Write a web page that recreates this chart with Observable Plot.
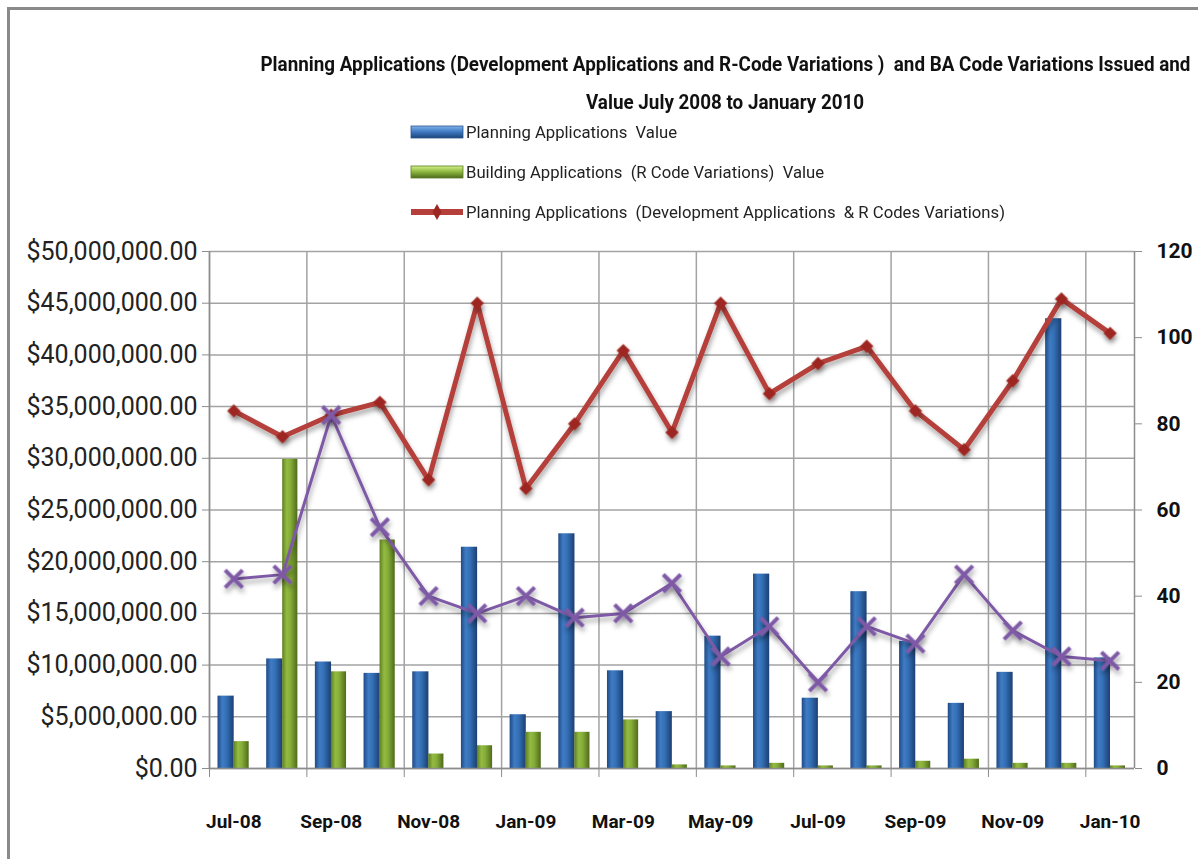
<!DOCTYPE html>
<html>
<head>
<meta charset="utf-8">
<script src="https://cdn.jsdelivr.net/npm/d3@7"></script>
<script src="https://cdn.jsdelivr.net/npm/@observablehq/plot@0.6"></script>
<style>
  html, body { margin: 0; padding: 0; background: #fff; }
  #wrap { position: relative; width: 1198px; height: 859px; overflow: hidden; background: #fff; }
  #frame { position: absolute; left: 7px; top: 7px; width: 1200px; height: 900px; border-left: 3px solid #8a8a8a; border-top: 3px solid #8a8a8a; }
  #header { position: absolute; left: 0; top: 0; width: 1198px; height: 231px; font-family: Roboto, "Noto Sans", sans-serif; }
  .title { position: absolute; left: 0; width: 1450px; text-align: center; font-weight: bold; font-size: 21px; color: #111; white-space: pre; }
  .title span { display: inline-block; transform-origin: 50% 50%; }
  .leg { position: absolute; left: 410px; height: 24px; display: flex; align-items: center; font-size: 17px; color: #222; white-space: pre; }
  .leg svg { margin-right: 2px; flex: none; }
  .leg span { display: inline-block; transform-origin: 0 50%; }
  #chart { position: absolute; left: 0; top: 231px; }
  #chart svg { font-family: Roboto, "Noto Sans", sans-serif; overflow: visible; }
</style>
</head>
<body>
<div id="wrap">
  <div id="frame"></div>
  <div id="header"></div>
  <div id="chart"></div>
</div>
<script>
// ---- data ----
const months = ["Jul-08","Aug-08","Sep-08","Oct-08","Nov-08","Dec-08","Jan-09","Feb-09","Mar-09","Apr-09",
                "May-09","Jun-09","Jul-09","Aug-09","Sep-09","Oct-09","Nov-09","Dec-09","Jan-10"];
const planningValue = [7000000,10600000,10300000,9200000,9350000,21400000,5200000,22700000,9450000,5500000,
                       12800000,18800000,6800000,17100000,12300000,6300000,9300000,43500000,10700000];
const buildingValue = [2600000,29900000,9350000,22100000,1400000,2200000,3500000,3500000,4700000,350000,
                       250000,500000,250000,250000,700000,900000,500000,500000,250000];
const planningCount = [83,77,82,85,67,108,65,80,97,78,108,87,94,98,83,74,90,109,101];
const baCount = [44,45,82,56,40,36,40,35,36,43,26,33,20,33,29,45,32,26,25];
const leftTicks = [0,5000000,10000000,15000000,20000000,25000000,30000000,35000000,40000000,45000000,50000000];
const rightTicks = [0,20,40,60,80,100,120];
const titleLines = ["Planning Applications (Development Applications and R-Code Variations )  and BA Code Variations Issued and",
                    "Value July 2008 to January 2010"];
const legendItems = ["Planning Applications  Value",
                     "Building Applications  (R Code Variations)  Value",
                     "Planning Applications  (Development Applications  & R Codes Variations)"];

// ---- header ----
const header = document.getElementById("header");
const titleSpans = titleLines.map((t, i) => {
  const d = document.createElement("div");
  d.className = "title";
  d.style.top = (52 + i * 38) + "px";
  const s = document.createElement("span");
  s.textContent = t;
  d.appendChild(s);
  header.appendChild(d);
  return s;
});
const swatches = [
  `<svg width="54" height="14"><defs><linearGradient id="lb" x1="0" y1="0" x2="0" y2="1"><stop offset="0" stop-color="#7fb2ea"/><stop offset="0.5" stop-color="#3d78c0"/><stop offset="1" stop-color="#1d4478"/></linearGradient></defs><rect x="1" y="1" width="52" height="12" fill="url(#lb)" stroke="#2a5590" stroke-width="0.8"/></svg>`,
  `<svg width="54" height="14"><defs><linearGradient id="lg" x1="0" y1="0" x2="0" y2="1"><stop offset="0" stop-color="#d5f08a"/><stop offset="0.5" stop-color="#8ab43c"/><stop offset="1" stop-color="#4e6a1c"/></linearGradient></defs><rect x="1" y="1" width="52" height="12" fill="url(#lg)" stroke="#5d7d24" stroke-width="0.8"/></svg>`,
  `<svg width="54" height="20"><line x1="1" y1="10" x2="53" y2="10" stroke="#b5403b" stroke-width="6"/><path d="M27,2 L31.5,10 L27,18 L22.5,10 Z" fill="#9e2620"/></svg>`
];
const legSpans = legendItems.map((t, i) => {
  const d = document.createElement("div");
  d.className = "leg";
  d.style.top = (120 + i * 40) + "px";
  d.innerHTML = swatches[i];
  const s = document.createElement("span");
  s.textContent = t;
  d.appendChild(s);
  header.appendChild(d);
  return s;
});
// condense text to mimic the narrow original font
const tScale = 930 / titleSpans[0].getBoundingClientRect().width;
titleSpans.forEach(s => s.style.transform = `scaleX(${tScale})`);
const lScale = 539 / legSpans[2].getBoundingClientRect().width;
legSpans.forEach(s => s.style.transform = `scaleX(${lScale})`);

// ---- chart ----
const k = 50000000 / 120; // right axis (count) -> left axis units
const data = months.map((m, i) => ({
  i, m,
  pv: planningValue[i],
  bv: buildingValue[i],
  pc: planningCount[i] * k,
  bc: baCount[i] * k
}));
const gridX = d3.range(0, months.length, 2);

const grey = "#a3a3a3";
const chart = Plot.plot({
  width: 1198,
  height: 628,
  marginTop: 20,
  marginBottom: 91,
  marginLeft: 209,
  marginRight: 64,
  x: { domain: [0, months.length], axis: null },
  y: { domain: [0, 50000000], axis: null },
  marks: [
    Plot.ruleY(leftTicks, { stroke: grey, strokeWidth: 1.5 }),
    Plot.ruleX(gridX, { stroke: grey, strokeWidth: 1.5 }),
    Plot.ruleX([months.length], { stroke: "#8c8c8c", strokeWidth: 1.5 }),
    Plot.rectY(data, { x1: d => d.i, x2: d => d.i + 1, y: "pv", insetLeft: 8.5, insetRight: 24, fill: "url(#gBlue)" }),
    Plot.rectY(data, { x1: d => d.i, x2: d => d.i + 1, y: "bv", insetLeft: 24.5, insetRight: 9, fill: "url(#gGreen)" }),
    Plot.line(data, { x: d => d.i + 0.5, y: "pc", stroke: "#b5403b", strokeWidth: 5, strokeLinejoin: "miter" }),
    Plot.dot(data, { x: d => d.i + 0.5, y: "pc", symbol: "diamond2", r: 6, fill: "#9e2620", stroke: "none" }),
    Plot.line(data, { x: d => d.i + 0.5, y: "bc", stroke: "#7e5aa6", strokeWidth: 3 }),
    Plot.dot(data, { x: d => d.i + 0.5, y: "bc", symbol: "times", r: 8, stroke: "#7e5aa6", strokeWidth: 4 }),
    Plot.ruleY([0], { stroke: "#8c8c8c", strokeWidth: 1.5 }),
    Plot.ruleX([0], { stroke: "#8c8c8c", strokeWidth: 1.5 }),
    Plot.axisY(leftTicks, {
      anchor: "left", tickSize: 7, tickPadding: 5, stroke: "#8c8c8c",
      tickFormat: d3.format("$,.2f"), fontSize: 25, fill: "#222"
    }),
    Plot.axisY(rightTicks.map(v => v * k), {
      anchor: "right", tickSize: 7, tickPadding: 15, stroke: "#8c8c8c",
      tickFormat: d => String(Math.round(d / k)), fontSize: 21, fontWeight: "bold", fill: "#111"
    }),
    Plot.axisX(gridX, { tickSize: 9, tickFormat: () => "", stroke: "#8c8c8c" }),
    Plot.axisX(gridX.map(i => i + 0.5), {
      tickSize: 0, tickPadding: 46, tickFormat: d => months[Math.round(d - 0.5)],
      fontSize: 19, fontWeight: "bold", fill: "#111"
    })
  ]
});

// gradients + shadows
const svg = d3.select(chart);
const defs = svg.insert("defs", ":first-child");
const gb = defs.append("linearGradient").attr("id", "gBlue").attr("x1", 0).attr("x2", 1).attr("y1", 0).attr("y2", 0);
[["0", "#1f4a86"], ["0.3", "#3f7cc4"], ["0.55", "#3470b6"], ["1", "#1c3f72"]].forEach(([o, c]) => gb.append("stop").attr("offset", o).attr("stop-color", c));
const gg = defs.append("linearGradient").attr("id", "gGreen").attr("x1", 0).attr("x2", 1).attr("y1", 0).attr("y2", 0);
[["0", "#5f7f22"], ["0.3", "#93bb42"], ["0.55", "#86ad38"], ["1", "#4f6b1b"]].forEach(([o, c]) => gg.append("stop").attr("offset", o).attr("stop-color", c));
const sh = defs.append("filter").attr("id", "shadow").attr("x", "-10%").attr("y", "-10%").attr("width", "130%").attr("height", "140%");
sh.append("feDropShadow").attr("dx", 1).attr("dy", 4).attr("stdDeviation", 2.5).attr("flood-color", "#000").attr("flood-opacity", 0.35);
svg.selectAll('g[aria-label="line"], g[aria-label="dot"]').attr("filter", "url(#shadow)");

document.getElementById("chart").appendChild(chart);
</script>
</body>
</html>
